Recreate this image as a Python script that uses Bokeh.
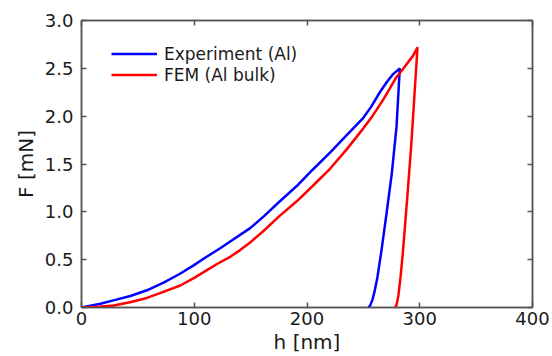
from bokeh.plotting import figure
from bokeh.models import (LinearAxis, FixedTicker, NumeralTickFormatter,
                          Legend, LegendItem)
from bokeh.embed import file_html
from bokeh.resources import INLINE

# Experiment (Al): loading then unloading
exp_h = [0, 16.8, 30, 43.4, 58, 72.8, 87, 99.4, 111, 123, 131.9, 149.6, 161.4,
         175, 190.9, 205, 220.4, 235, 249.8, 257, 264.6, 271, 276.4, 282.3,
         279.4, 275.2, 270.5, 266.1, 262.5, 259.8, 258, 256, 254.5]
exp_F = [0, 0.04, 0.08, 0.12, 0.18, 0.26, 0.35, 0.44, 0.53, 0.62, 0.69, 0.83, 0.95,
         1.10, 1.27, 1.44, 1.62, 1.80, 1.98, 2.10, 2.25, 2.36, 2.44, 2.50,
         1.89, 1.40, 0.98, 0.60, 0.32, 0.16, 0.08, 0.02, 0.0]

# FEM (Al bulk): loading then unloading
fem_h = [0, 15, 28.6, 43, 58, 72, 87.6, 100, 111.2, 121, 131.9, 140.7, 149.6, 161.4,
         175, 190.9, 205, 220.4, 235, 249.8, 258, 267.5, 273.5, 279.4, 285, 290, 294, 298,
         292.6, 289, 285.2, 283, 281, 279.5, 278.3]
fem_F = [0, 0.008, 0.02, 0.055, 0.10, 0.16, 0.23, 0.31, 0.39, 0.46, 0.53, 0.60, 0.68, 0.80,
         0.95, 1.11, 1.27, 1.45, 1.65, 1.87, 2.00, 2.17, 2.29, 2.41, 2.49, 2.57, 2.63, 2.72,
         1.72, 1.16, 0.60, 0.32, 0.12, 0.03, 0.0]

x_ticks = [0, 100, 200, 300, 400]
y_ticks = [0.0, 0.5, 1.0, 1.5, 2.0, 2.5, 3.0]
x_title = "h [nm]"
y_title = "F [mN]"

FONT = "DejaVu Sans"
FRAME = "#555555"
TXT = "#1a1a1a"

p = figure(width=552, height=356, x_range=(0, 400), y_range=(0, 3),
           output_backend="svg", toolbar_location=None,
           min_border_left=81, min_border_right=20,
           min_border_top=20, min_border_bottom=48)
p.xgrid.visible = False
p.ygrid.visible = False
p.outline_line_color = FRAME
p.outline_line_width = 1.5
p.background_fill_color = "white"
p.border_fill_color = "white"

def style_axis(ax, ticks, labels=True, standoff=6):
    ax.ticker = FixedTicker(ticks=ticks)
    ax.major_tick_in = 5
    ax.major_tick_out = 0
    ax.minor_tick_line_color = None
    ax.major_tick_line_color = FRAME
    ax.major_tick_line_width = 1.5
    ax.axis_line_color = FRAME
    ax.axis_line_width = 1.5
    ax.major_label_text_font = FONT
    ax.major_label_text_color = TXT
    ax.major_label_standoff = standoff
    ax.axis_label_text_font = FONT
    ax.axis_label_text_font_size = "20px"
    ax.axis_label_text_font_style = "normal"
    ax.axis_label_text_color = TXT
    if labels:
        ax.major_label_text_font_size = "18px"
    else:
        ax.major_label_text_font_size = "0px"
        ax.major_label_text_color = None

style_axis(p.xaxis[0], x_ticks, True, 4)
style_axis(p.yaxis[0], y_ticks, True, 8)
p.yaxis[0].formatter = NumeralTickFormatter(format="0.0")
p.xaxis[0].axis_label = x_title
p.xaxis[0].axis_label_standoff = 2
p.yaxis[0].axis_label = y_title
p.yaxis[0].axis_label_standoff = 4

top = LinearAxis()
style_axis(top, x_ticks, False)
p.add_layout(top, "above")
right = LinearAxis()
style_axis(right, y_ticks, False)
p.add_layout(right, "right")

r_exp = p.line(exp_h, exp_F, line_color="#0000ff", line_width=2.5)
r_fem = p.line(fem_h, fem_F, line_color="#ff0000", line_width=2.5)

legend = Legend(items=[LegendItem(label="Experiment (Al)", renderers=[r_exp]),
                       LegendItem(label="FEM (Al bulk)", renderers=[r_fem])],
                location=(30, 222), padding=0, margin=0, spacing=0,
                glyph_width=46, glyph_height=21, label_height=21,
                label_standoff=7, label_text_font=FONT,
                label_text_font_size="17px", label_text_color=TXT,
                border_line_color=None, background_fill_alpha=0)
p.add_layout(legend, "center")

open("out.html", "w").write(file_html(p, INLINE))
